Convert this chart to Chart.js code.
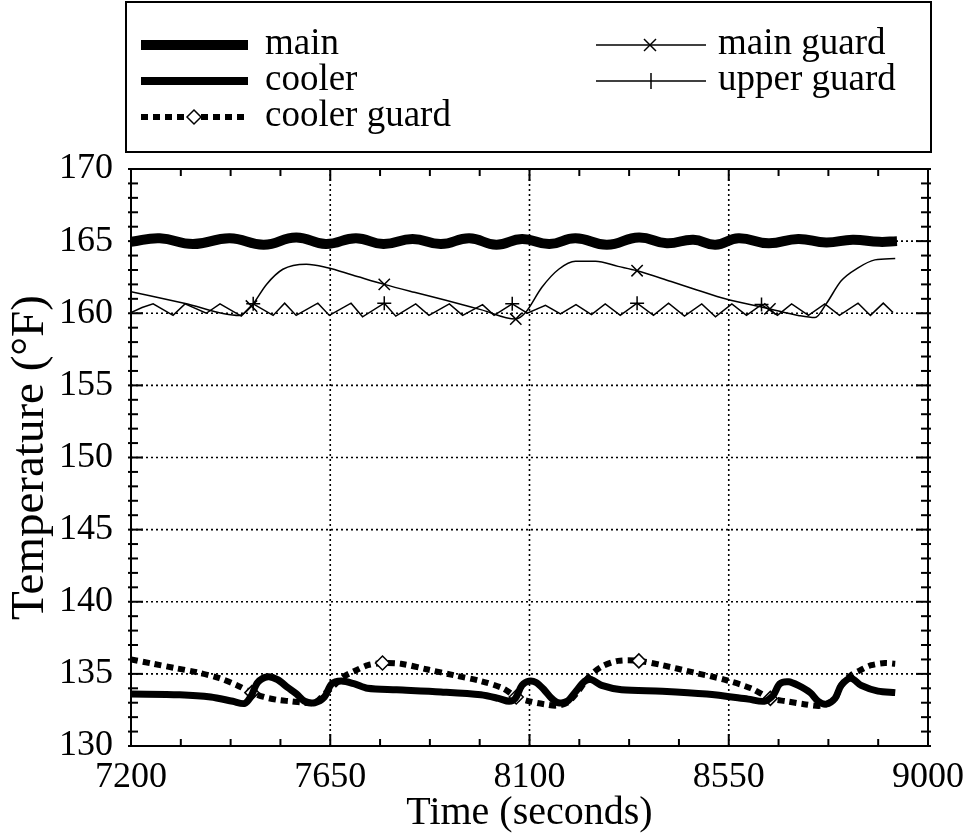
<!DOCTYPE html>
<html>
<head>
<meta charset="utf-8">
<script src="https://cdn.jsdelivr.net/npm/chart.js@4.4.1/dist/chart.umd.min.js"></script>
<style>
  html, body { margin: 0; background: #fff; }
</style>
</head>
<body>
<canvas id="chart" width="966" height="837"></canvas>
<script>
// axis ranges / ticks
const X_MIN = 7200, X_MAX = 9000, X_STEP = 450, X_MINOR = 112.5;
const Y_MIN = 130, Y_MAX = 170, Y_STEP = 5, Y_MINOR = 1;
const FONT = '"Liberation Serif", "Times New Roman", serif';

// main (thick wavy line near 165)
const mainTime = [7200, 7265, 7340, 7423, 7500, 7573, 7640, 7708, 7770, 7836, 7900, 7964, 8025, 8083,
                  8145, 8204, 8275, 8347, 8410, 8470, 8520, 8572, 8640, 8707, 8770, 8830, 8890, 8930];
const mainTemp = [164.95, 165.2, 164.8, 165.2, 164.75, 165.25, 164.8, 165.2, 164.8, 165.15, 164.8, 165.2, 164.75, 165.15,
                  164.8, 165.2, 164.75, 165.25, 164.85, 165.1, 164.75, 165.2, 164.85, 165.15, 164.9, 165.1, 164.95, 165.0];

// cooler (thick solid near 133.5)
const coolerTime = [7200, 7310, 7380, 7430, 7457, 7472, 7486, 7509, 7531, 7554, 7574, 7592, 7615, 7637, 7653, 7675,
                    7705, 7734, 7800, 7900, 7990, 8030, 8054, 8068, 8083, 8099, 8115, 8133, 8150, 8165, 8185, 8205,
                    8225, 8240, 8263, 8308, 8400, 8500, 8594, 8630, 8650, 8665, 8685, 8707, 8734, 8752, 8770, 8790,
                    8804, 8826, 8849, 8887, 8926];
const coolerTemp = [133.6, 133.55, 133.4, 133.1, 132.95, 133.5, 134.4, 134.8, 134.6, 134.05, 133.6, 133.1, 133.0, 133.4, 134.3, 134.5,
                    134.3, 134.0, 133.9, 133.75, 133.55, 133.3, 133.1, 133.3, 134.2, 134.5, 134.4, 133.9, 133.3, 133.0, 133.1, 133.8,
                    134.5, 134.6, 134.2, 133.9, 133.8, 133.6, 133.25, 133.1, 133.5, 134.3, 134.45, 134.2, 133.7, 133.1, 132.9, 133.3,
                    134.2, 134.7, 134.2, 133.8, 133.7];

// cooler guard (dashed, diamonds)
const coolerGuardTime = [7200, 7250, 7300, 7350, 7400, 7440, 7473, 7500, 7530, 7560, 7590, 7615, 7637, 7655, 7680, 7705,
                         7735, 7768, 7810, 7870, 7930, 7990, 8040, 8070, 8100, 8133, 8160, 8185, 8210, 8234, 8263, 8300,
                         8347, 8400, 8470, 8540, 8600, 8644, 8680, 8720, 8760, 8790, 8804, 8826, 8850, 8872, 8903, 8926];
const coolerGuardTemp = [136.0, 135.7, 135.4, 135.1, 134.7, 134.2, 133.7, 133.4, 133.2, 133.1, 133.0, 133.0, 133.6, 134.1, 134.8, 135.2,
                         135.6, 135.75, 135.7, 135.3, 134.9, 134.5, 134.0, 133.4, 133.1, 132.9, 132.8, 133.0, 133.8, 134.8, 135.5, 135.9,
                         135.9, 135.6, 135.1, 134.6, 134.0, 133.3, 133.1, 132.9, 132.8, 133.3, 134.2, 134.9, 135.3, 135.6, 135.75, 135.7];
const coolerGuardMarks = [7473, 7768, 8070, 8347, 8644];

// main guard (thin, x markers)
const mainGuardTime = [7200, 7320, 7445, 7472, 7506, 7543, 7596, 7644, 7700, 7772, 7840, 7911, 7990, 8069,
                       8091, 8128, 8166, 8204, 8249, 8300, 8343, 8420, 8480, 8542, 8643, 8707, 8745, 8770,
                       8804, 8842, 8880, 8926];
const mainGuardTemp = [161.5, 160.7, 159.85, 160.5, 162.0, 163.05, 163.4, 163.15, 162.65, 162.0, 161.45, 160.9, 160.25, 159.6,
                       160.05, 161.8, 163.05, 163.6, 163.6, 163.25, 162.95, 162.2, 161.6, 161.0, 160.3, 159.85, 159.7, 160.65,
                       162.25, 163.15, 163.7, 163.8];
const mainGuardMarks = [7472, 7772, 8069, 8343, 8643];

// upper guard (thin zigzag, + markers)
const upperGuardTime = [7200, 7225, 7250, 7295, 7322, 7370, 7401, 7449, 7476, 7521, 7547, 7573, 7622, 7648, 7697, 7723,
                        7772, 7798, 7843, 7873, 7919, 7949, 7994, 8020, 8061, 8095, 8136, 8170, 8205, 8240, 8271, 8305,
                        8343, 8380, 8414, 8450, 8489, 8520, 8557, 8590, 8624, 8660, 8692, 8730, 8767, 8800, 8842, 8870,
                        8899, 8921];
const upperGuardTemp = [160.05, 160.4, 160.65, 159.85, 160.65, 160.0, 160.65, 159.8, 160.65, 159.85, 160.7, 159.85, 160.7, 159.85, 160.7, 159.75,
                        160.7, 159.8, 160.65, 159.85, 160.65, 159.85, 160.6, 159.85, 160.65, 160.0, 160.55, 159.95, 160.6, 159.9, 160.65, 159.85,
                        160.7, 159.85, 160.7, 159.8, 160.65, 159.75, 160.65, 159.85, 160.6, 159.85, 160.65, 159.85, 160.65, 159.85, 160.7, 159.85,
                        160.7, 160.05];
const upperGuardMarks = [7476, 7772, 8061, 8343, 8624];

const pts = (t, v) => t.map((x, i) => ({ x, y: v[i] }));
const markRadius = (marks, r) => ctx => marks.includes(ctx.raw.x) ? r : 0;

function line(ctx, x1, y1, x2, y2) {
  ctx.beginPath(); ctx.moveTo(x1, y1); ctx.lineTo(x2, y2); ctx.stroke();
}

// grid, frame, inward ticks on all four sides
const framePlugin = {
  id: 'frame',
  beforeDatasetsDraw(chart) {
    const { ctx, chartArea: a, scales: { x, y } } = chart;
    ctx.save();
    ctx.strokeStyle = '#000';
    ctx.lineWidth = 1.6;
    ctx.setLineDash([2, 3]);
    for (let v = X_MIN + X_STEP; v < X_MAX; v += X_STEP) {
      const px = x.getPixelForValue(v);
      line(ctx, px, a.top, px, a.bottom);
    }
    for (let v = Y_MIN + Y_STEP; v < Y_MAX; v += Y_STEP) {
      const py = y.getPixelForValue(v);
      line(ctx, a.left, py, a.right, py);
    }
    ctx.restore();
  },
  afterDatasetsDraw(chart) {
    const { ctx, chartArea: a, scales: { x, y } } = chart;
    ctx.save();
    ctx.strokeStyle = '#000';
    ctx.lineWidth = 2;
    ctx.strokeRect(a.left, a.top, a.right - a.left, a.bottom - a.top);
    for (let v = X_MIN; v <= X_MAX + 0.1; v += X_MINOR) {
      const px = x.getPixelForValue(v);
      const len = Math.abs((v - X_MIN) % X_STEP) < 0.1 ? 12 : 7;
      line(ctx, px, a.bottom, px, a.bottom - len);
      line(ctx, px, a.top, px, a.top + len);
    }
    for (let v = Y_MIN; v <= Y_MAX; v += Y_MINOR) {
      const py = y.getPixelForValue(v);
      const len = (v - Y_MIN) % Y_STEP === 0 ? 12 : 7;
      line(ctx, a.left - 3, py, a.left + len, py);
      line(ctx, a.right + 3, py, a.right - len, py);
    }
    ctx.restore();
  },
  afterDraw(chart) {
    const ctx = chart.ctx;
    ctx.save();
    ctx.strokeStyle = '#000';
    ctx.fillStyle = '#000';
    ctx.lineWidth = 2;
    ctx.strokeRect(126, 2, 805, 150);
    ctx.font = '37px ' + FONT;
    ctx.textBaseline = 'middle';

    // left column
    ctx.lineWidth = 10;
    line(ctx, 141, 45, 248, 45);
    ctx.lineWidth = 8;
    line(ctx, 141, 81, 248, 81);
    ctx.lineWidth = 6;
    ctx.setLineDash([7, 5]);
    line(ctx, 141, 117, 248, 117);
    ctx.setLineDash([]);
    ctx.lineWidth = 1.5;
    ctx.fillStyle = '#fff';
    ctx.beginPath();
    ctx.moveTo(194, 110); ctx.lineTo(201, 117); ctx.lineTo(194, 124); ctx.lineTo(187, 117); ctx.closePath();
    ctx.fill(); ctx.stroke();
    ctx.fillStyle = '#000';
    ctx.fillText('main', 265, 44);
    ctx.fillText('cooler', 265, 80);
    ctx.fillText('cooler guard', 265, 116);

    // right column
    ctx.lineWidth = 1.5;
    line(ctx, 596, 45, 706, 45);
    line(ctx, 644, 39, 656, 51);
    line(ctx, 644, 51, 656, 39);
    line(ctx, 596, 81, 706, 81);
    line(ctx, 651, 73, 651, 89);
    ctx.fillText('main guard', 718, 44);
    ctx.fillText('upper guard', 718, 80);
    ctx.restore();
  }
};

new Chart(document.getElementById('chart'), {
  type: 'line',
  data: {
    datasets: [
      {
        label: 'main',
        data: pts(mainTime, mainTemp),
        borderColor: '#000',
        borderWidth: 10,
        pointRadius: 0,
        tension: 0.45,
      },
      {
        label: 'cooler',
        data: pts(coolerTime, coolerTemp),
        borderColor: '#000',
        borderWidth: 7,
        pointRadius: 0,
        tension: 0.3,
      },
      {
        label: 'cooler guard',
        data: pts(coolerGuardTime, coolerGuardTemp),
        borderColor: '#000',
        borderWidth: 6,
        borderDash: [7, 5],
        pointStyle: 'rectRot',
        pointRadius: markRadius(coolerGuardMarks, 7),
        pointBackgroundColor: '#fff',
        pointBorderColor: '#000',
        pointBorderWidth: 1.5,
        tension: 0.3,
      },
      {
        label: 'main guard',
        data: pts(mainGuardTime, mainGuardTemp),
        borderColor: '#000',
        borderWidth: 1.5,
        pointStyle: 'crossRot',
        pointRadius: markRadius(mainGuardMarks, 8),
        pointBorderColor: '#000',
        pointBorderWidth: 1.5,
        cubicInterpolationMode: 'monotone',
      },
      {
        label: 'upper guard',
        data: pts(upperGuardTime, upperGuardTemp),
        borderColor: '#000',
        borderWidth: 1.5,
        pointStyle: 'cross',
        pointRadius: markRadius(upperGuardMarks, 7),
        pointBorderColor: '#000',
        pointBorderWidth: 1.5,
        tension: 0,
      },
    ],
  },
  options: {
    responsive: false,
    animation: false,
    layout: { padding: { top: 169, right: 36, left: 0, bottom: 0 } },
    plugins: {
      legend: { display: false },
      tooltip: { enabled: false },
    },
    scales: {
      x: {
        type: 'linear',
        min: X_MIN,
        max: X_MAX,
        afterFit: s => { s.height = 91; },
        ticks: { stepSize: X_STEP, color: '#000', padding: 2, maxRotation: 0, callback: v => String(v),
                 font: { family: FONT, size: 36 } },
        grid: { display: false },
        border: { display: false },
        title: { display: true, text: 'Time (seconds)', color: '#000', padding: 0, font: { family: FONT, size: 40 } },
      },
      y: {
        min: Y_MIN,
        max: Y_MAX,
        afterFit: s => { s.width = 131; },
        ticks: { stepSize: Y_STEP, color: '#000', padding: 10, callback: v => String(v),
                 font: { family: FONT, size: 36 } },
        grid: { display: false },
        border: { display: false },
        title: { display: true, text: 'Temperature (°F)', color: '#000', padding: 2, font: { family: FONT, size: 47 } },
      },
    },
  },
  plugins: [framePlugin],
});
</script>
</body>
</html>
